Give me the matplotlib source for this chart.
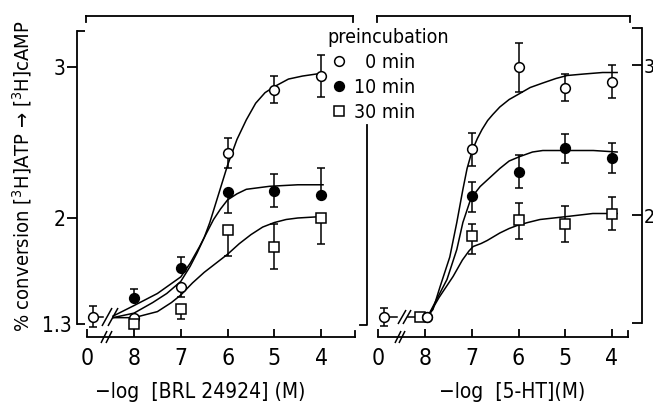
import matplotlib
matplotlib.use("Agg")
import matplotlib.pyplot as plt
from matplotlib.markers import MarkerStyle
from matplotlib.transforms import Affine2D

plt.rcParams['font.family'] = ['DejaVu Sans']
plt.rcParams['font.stretch'] = 'condensed'

# x is -log[agonist] (M); the control ("0") is drawn left of the axis break
xtick_pos = [9, 8, 7, 6, 5, 4]
xtick_labels = ['0', '8', '7', '6', '5', '4']
ctrl_x = 8.88
doses = [8, 7, 6, 5, 4]

# ---- BRL 24924 panel (means, lower / upper error bars) ----
brl_ctrl, brl_ctrl_err = 1.345, 0.07
brl_0 = [1.34, 1.54, 2.43, 2.85, 2.94]
brl_0_lo = [0, 0.06, 0.10, 0.09, 0.14]
brl_0_hi = [0, 0, 0.10, 0.09, 0.14]
brl_10 = [1.47, 1.67, 2.17, 2.18, 2.15]
brl_10_lo = [0, 0, 0.14, 0.11, 0]
brl_10_hi = [0.06, 0.07, 0, 0.11, 0.18]
brl_30 = [1.30, 1.40, 1.92, 1.81, 2.00]
brl_30_lo = [0, 0.07, 0.17, 0.15, 0.17]
brl_30_hi = [0, 0, 0, 0.15, 0]

# fitted curves
brl_fit0_x = [8.45, 8.0, 7.6, 7.3, 7.0, 6.8, 6.65, 6.5, 6.38, 6.25, 6.1, 6.0, 5.8, 5.6, 5.4, 5.2, 5.0, 4.7, 4.4, 3.96]
brl_fit0_y = [1.34, 1.37, 1.44, 1.50, 1.58, 1.68, 1.77, 1.87, 1.97, 2.10, 2.25, 2.35, 2.52, 2.65, 2.76, 2.83, 2.87, 2.92, 2.94, 2.96]
brl_fit10_x = [8.45, 8.0, 7.5, 7.0, 6.8, 6.6, 6.45, 6.3, 6.15, 6.0, 5.8, 5.6, 5.35, 5.1, 4.5, 3.96]
brl_fit10_y = [1.35, 1.42, 1.50, 1.61, 1.70, 1.81, 1.90, 1.99, 2.06, 2.12, 2.16, 2.19, 2.20, 2.21, 2.22, 2.22]
brl_fit30_x = [8.45, 8.0, 7.5, 7.2, 7.0, 6.75, 6.5, 6.25, 6.0, 5.75, 5.5, 5.25, 5.0, 4.75, 4.5, 3.96]
brl_fit30_y = [1.34, 1.34, 1.38, 1.44, 1.49, 1.57, 1.64, 1.70, 1.76, 1.83, 1.89, 1.94, 1.97, 1.99, 2.00, 2.01]

# ---- 5-HT panel ----
ht_ctrl, ht_ctrl_err = 1.32, 0.06
ht_0_x = [7.96, 7, 6, 5, 4]
ht_0 = [1.32, 2.44, 2.99, 2.85, 2.89]
ht_0_lo = [0, 0.11, 0.17, 0.09, 0.11]
ht_0_hi = [0, 0.11, 0.16, 0.09, 0.11]
ht_10_x = [7.96, 7, 6, 5, 4]
ht_10 = [1.32, 2.13, 2.29, 2.45, 2.38]
ht_10_lo = [0, 0.11, 0.11, 0.10, 0.10]
ht_10_hi = [0, 0.09, 0.11, 0.09, 0.10]
ht_30_x = [8.1, 7, 6, 5, 4]
ht_30 = [1.32, 1.86, 1.97, 1.94, 2.01]
ht_30_lo = [0, 0.12, 0.13, 0.12, 0.11]
ht_30_hi = [0, 0.08, 0.11, 0.12, 0.11]

ht_fit0_x = [7.96, 7.83, 7.68, 7.47, 7.32, 7.19, 7.10, 6.99, 6.88, 6.78, 6.66, 6.55, 6.4, 6.2, 6.03, 5.75, 5.48, 5.2, 4.96, 4.6, 4.2, 3.89]
ht_fit0_y = [1.32, 1.37, 1.52, 1.72, 1.95, 2.17, 2.31, 2.43, 2.51, 2.57, 2.63, 2.67, 2.72, 2.77, 2.80, 2.85, 2.88, 2.91, 2.93, 2.94, 2.95, 2.95]
ht_fit10_x = [7.93, 7.53, 7.32, 7.19, 7.04, 6.92, 6.82, 6.61, 6.40, 6.2, 5.97, 5.7, 5.48, 4.96, 4.4, 3.89]
ht_fit10_y = [1.33, 1.57, 1.77, 1.95, 2.09, 2.15, 2.19, 2.25, 2.31, 2.36, 2.39, 2.42, 2.43, 2.43, 2.43, 2.42]
ht_fit30_x = [7.94, 7.70, 7.40, 7.20, 7.06, 6.97, 6.80, 6.67, 6.40, 6.20, 6.03, 5.80, 5.54, 5.25, 4.96, 4.41, 3.89]
ht_fit30_y = [1.32, 1.45, 1.59, 1.70, 1.76, 1.79, 1.81, 1.83, 1.88, 1.91, 1.93, 1.95, 1.97, 1.98, 1.99, 2.01, 2.01]

LW = 1.1
fig = plt.figure(figsize=(6.53, 4.09), dpi=100)
W, H = 653, 409


def px_axes(x0, y0, x1, y1):
    return fig.add_axes([x0 / W, 1 - y1 / H, (x1 - x0) / W, (y1 - y0) / H])


slash = MarkerStyle('|', transform=Affine2D().rotate_deg(-28))


def draw_series(ax, x, y, lo, hi, marker, face):
    ax.errorbar(x, y, yerr=[lo, hi], fmt='none', ecolor='black',
                elinewidth=LW, capsize=3, capthick=LW, zorder=2)
    return ax.plot(x, y, ls='none', marker=marker, ms=7 if marker == 'o' else 6.5,
                   mfc=face, mec='black', mew=1.1, zorder=3)[0]


def frame(ax, bottom, top, cap=6):
    for s in ['right', 'top', 'left', 'bottom']:
        ax.spines[s].set_linewidth(1.3)
    ax.spines['bottom'].set_bounds(*bottom)
    ax.spines['top'].set_bounds(*top)
    xt = ax.get_xaxis_transform()
    h = cap / ax.bbox.height
    for xv in top:
        ax.plot([xv, xv], [1, 1 - h], color='black', lw=1.3, transform=xt, clip_on=False)
    ax.plot([bottom[1], bottom[1]], [0, h], color='black', lw=1.3, transform=xt, clip_on=False)
    ax.set_xticks(xtick_pos, xtick_labels)
    ax.tick_params(axis='x', direction='in', length=6, width=1.3, pad=7, labelsize=16.5)


# ---------------- left panel ----------------
ax1 = px_axes(77, 16, 356, 337)
ax1.set_xlim(9.218, 3.256)
ax1.set_ylim(1.2119, 3.3377)
ax1.spines['right'].set_visible(False)
ax1.spines['left'].set_bounds(1.3, 3.24)
frame(ax1, (9.0, 3.278), (9.02, 3.32))
ax1.set_yticks([2, 3], ['2', '3'])
ax1.set_yticks([1.3, 3.24], ['1.3', ''], minor=True)
ax1.tick_params(axis='y', which='major', direction='out', length=7, width=1.3, pad=1, labelsize=15)
ax1.tick_params(axis='y', which='minor', direction='in', length=6, width=1.3, pad=4, labelsize=15)

ax1.plot(brl_fit0_x, brl_fit0_y, color='black', lw=1.1)
ax1.plot(brl_fit10_x, brl_fit10_y, color='black', lw=1.1)
ax1.plot(brl_fit30_x, brl_fit30_y, color='black', lw=1.1)
ax1.plot([ctrl_x, 8.66], [brl_ctrl, brl_ctrl], color='black', lw=1.1)
draw_series(ax1, [ctrl_x], [brl_ctrl], [brl_ctrl_err], [brl_ctrl_err], 'o', 'white')
h0 = draw_series(ax1, doses, brl_0, brl_0_lo, brl_0_hi, 'o', 'white')
h10 = draw_series(ax1, doses, brl_10, brl_10_lo, brl_10_hi, 'o', 'black')
h30 = draw_series(ax1, doses, brl_30, brl_30_lo, brl_30_hi, 's', 'white')
# axis breaks
ax1.plot([8.58, 8.45], [brl_ctrl] * 2, ls='none', marker=slash, ms=15, mew=1.1, color='black', clip_on=False)
ax1.plot([8.64, 8.53], [1.2119] * 2, ls='none', marker=slash, ms=10, mew=1.1, color='black', clip_on=False)

# ---------------- right panel ----------------
ax2 = px_axes(367, 16, 642, 337)
ax2.set_xlim(9.241, 3.358)
ax2.set_ylim(1.1867, 3.3267)
ax2.spines['left'].set_visible(False)
ax2.spines['right'].set_bounds(1.28, 3.247)
frame(ax2, (9.005, 3.658), (9.027, 3.615))
ax2.yaxis.tick_right()
ax2.set_yticks([1.28, 2, 3, 3.247], ['', '2', '3', ''])
ax2.tick_params(axis='y', direction='in', length=7, width=1.3, pad=1, labelsize=14)
yt = ax2.get_yaxis_transform()
ax2.plot([-7 / 275, 0, 0], [1.267, 1.267, 2.6], color='black', lw=1.3, transform=yt, clip_on=False)

ax2.plot(ht_fit0_x, ht_fit0_y, color='black', lw=1.1)
ax2.plot(ht_fit10_x, ht_fit10_y, color='black', lw=1.1)
ax2.plot(ht_fit30_x, ht_fit30_y, color='black', lw=1.1)
ax2.plot([ctrl_x, 8.6], [ht_ctrl, ht_ctrl], color='black', lw=1.1)
ax2.plot([8.36, 8.1], [ht_ctrl, ht_ctrl], color='black', lw=1.1)
draw_series(ax2, [ctrl_x], [ht_ctrl], [ht_ctrl_err], [ht_ctrl_err], 'o', 'white')
draw_series(ax2, ht_30_x, ht_30, ht_30_lo, ht_30_hi, 's', 'white')
draw_series(ax2, ht_10_x, ht_10, ht_10_lo, ht_10_hi, 'o', 'black')
draw_series(ax2, ht_0_x, ht_0, ht_0_lo, ht_0_hi, 'o', 'white')
ax2.plot([8.5, 8.39], [ht_ctrl] * 2, ls='none', marker=slash, ms=12, mew=1.1, color='black', clip_on=False)
ax2.plot([8.58, 8.49], [1.1867] * 2, ls='none', marker=slash, ms=10, mew=1.1, color='black', clip_on=False)

# ---------------- labels / legend ----------------
fig.text(22 / W, 1 - 176 / H, '% conversion [$^3$H]ATP \u2192 [$^3$H]cAMP',
         rotation=90, ha='center', va='center', fontsize=14.5)
fig.text(200 / W, 1 - 392 / H, '\u2212log  [BRL 24924] (M)', ha='center', va='center', fontsize=15)
fig.text(512 / W, 1 - 392 / H, '\u2212log  [5-HT](M)', ha='center', va='center', fontsize=15)

fig.legend([h0, h10, h30], ['\u20070 min', '10 min', '30 min'], title='preincubation',
           loc='upper left', bbox_to_anchor=(327 / W, 1 - 28 / H), frameon=False,
           fontsize=14, title_fontsize=14, alignment='left', handlelength=1.2,
           handletextpad=0.2, labelspacing=0.3, borderpad=0, borderaxespad=0)

fig.savefig('out.png', dpi=100)
